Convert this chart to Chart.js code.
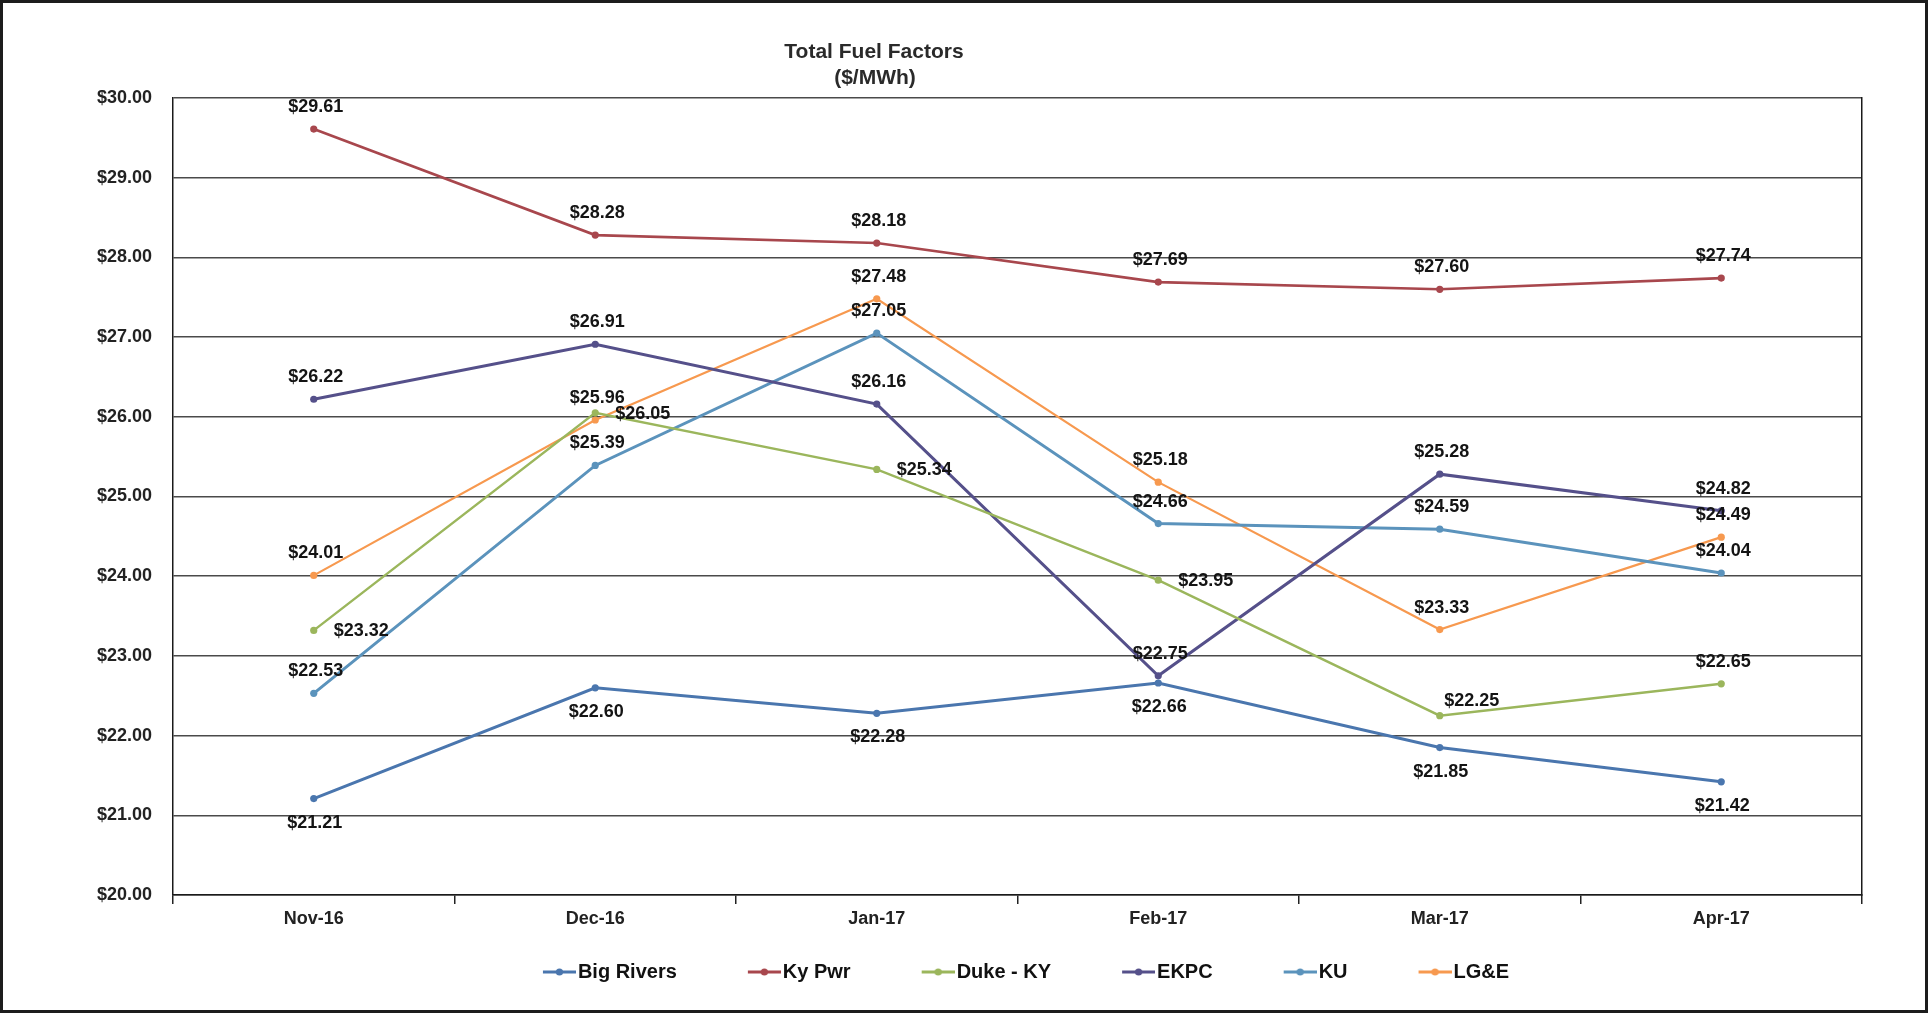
<!DOCTYPE html>
<html>
<head>
<meta charset="utf-8">
<script src="https://cdn.jsdelivr.net/npm/chart.js@4"></script>
<style>
  html, body { margin: 0; padding: 0; background: #ffffff; }
  #wrap { position: relative; width: 1932px; height: 1013px; background: #fff; }
  #frame { position: absolute; left: 0; top: 0; width: 1928px; height: 1013px; box-sizing: border-box; border: 3px solid #1c1c1c; pointer-events: none; }
  canvas { display: block; }
</style>
</head>
<body>
<div id="wrap">
  <canvas id="c" width="1932" height="1013"></canvas>
  <div id="frame"></div>
</div>
<script>
// ---- Data ----
const categories = ['Nov-16', 'Dec-16', 'Jan-17', 'Feb-17', 'Mar-17', 'Apr-17'];
const bigRivers = [21.21, 22.60, 22.28, 22.66, 21.85, 21.42];
const kyPwr     = [29.61, 28.28, 28.18, 27.69, 27.60, 27.74];
const dukeKY    = [23.32, 26.05, 25.34, 23.95, 22.25, 22.65];
const ekpc      = [26.22, 26.91, 26.16, 22.75, 25.28, 24.82];
const ku        = [22.53, 25.39, 27.05, 24.66, 24.59, 24.04];
const lge       = [24.01, 25.96, 27.48, 25.18, 23.33, 24.49];
const seriesNames = ['Big Rivers', 'Ky Pwr', 'Duke - KY', 'EKPC', 'KU', 'LG&E'];
const yMin = 20, yMax = 30, yStep = 1;
const titleLines = ['Total Fuel Factors', '($/MWh)'];

// ---- Styles ----
const colors = ['#4A76AE', '#A8474D', '#9BB65C', '#55508A', '#5B93BC', '#F7994F'];
const widths = [3, 2.6, 2.4, 3, 3, 2.2];
// label placement per series (style only)
const placements = [
  ['below','below','below','below','below','below'],
  ['above','above','above','above','above','above'],
  ['right','right','right','right','aboveRight','above'],
  ['above','above','above','above','above','above'],
  ['above','above','above','above','above','above'],
  ['above','above','above','above','above','above']
];
const FONT = '"Liberation Sans", Arial, sans-serif';

// legend line+dot images
function legendImage(color) {
  const B = 42, e = 8, Wi = B + 2 * e, H = 14;
  const cv = document.createElement('canvas');
  cv.width = Wi; cv.height = H;
  const g = cv.getContext('2d');
  g.strokeStyle = color; g.lineWidth = 3;
  g.beginPath(); g.moveTo(Wi - 33, H / 2); g.lineTo(Wi, H / 2); g.stroke();
  g.fillStyle = color;
  g.beginPath(); g.arc(Wi - 16.5, H / 2, 3.6, 0, Math.PI * 2); g.fill();
  return cv;
}
const legendImgs = colors.map((c) => legendImage(c));

const seriesValues = [bigRivers, kyPwr, dukeKY, ekpc, ku, lge];
const datasets = seriesNames.map((name, i) => ({
  label: name,
  data: seriesValues[i],
  borderColor: colors[i],
  backgroundColor: colors[i],
  borderWidth: widths[i],
  pointRadius: 3.6,
  pointHoverRadius: 3.6,
  pointBorderWidth: 0,
  pointBackgroundColor: colors[i],
  tension: 0,
  fill: false
}));

const dataLabelPlugin = {
  id: 'dataLabels',
  afterDatasetsDraw(chart) {
    const ctx = chart.ctx;
    ctx.save();
    ctx.font = 'bold 18px ' + FONT;
    ctx.fillStyle = '#141414';
    chart.data.datasets.forEach((ds, di) => {
      const meta = chart.getDatasetMeta(di);
      meta.data.forEach((pt, j) => {
        const v = ds.data[j];
        const txt = '$' + v.toFixed(2);
        const p = placements[di][j];
        let x = pt.x, y = pt.y;
        if (p === 'above') { ctx.textAlign = 'center'; ctx.textBaseline = 'middle'; x += 2; y -= 22; }
        else if (p === 'below') { ctx.textAlign = 'center'; ctx.textBaseline = 'middle'; x += 1; y += 24; }
        else if (p === 'right') { ctx.textAlign = 'left'; ctx.textBaseline = 'middle'; x += 20; y += 1; }
        else if (p === 'aboveRight') { ctx.textAlign = 'center'; ctx.textBaseline = 'middle'; x += 32; y -= 15; }
        ctx.fillText(txt, x, y);
      });
    });
    ctx.restore();
  }
};

const titlePlugin = {
  id: 'offsetTitle',
  afterDraw(chart) {
    const ctx = chart.ctx;
    ctx.save();
    ctx.font = 'bold 21px ' + FONT;
    ctx.fillStyle = '#2a2a2a';
    ctx.textAlign = 'center';
    ctx.textBaseline = 'middle';
    ctx.fillText(titleLines[0], 874, 52);
    ctx.fillText(titleLines[1], 875, 78);
    ctx.restore();
  }
};

new Chart(document.getElementById('c'), {
  type: 'line',
  data: { labels: categories, datasets },
  plugins: [dataLabelPlugin, titlePlugin],
  options: {
    responsive: false,
    devicePixelRatio: 1,
    animation: false,
    layout: { padding: { left: 83, right: 70, top: 98, bottom: 21 } },
    plugins: {
      title: { display: false },
      tooltip: { enabled: false },
      legend: {
        display: true,
        position: 'bottom',
        fullSize: false,
        align: 'center',
        labels: {
          usePointStyle: true,
          pointStyleWidth: 42,
          padding: 54,
          color: '#111',
          font: { family: FONT, size: 20, weight: 'bold' },
          generateLabels(chart) {
            const items = Chart.defaults.plugins.legend.labels.generateLabels(chart);
            items.forEach((it, i) => { it.pointStyle = legendImgs[i]; it.fontColor = '#111'; });
            return items;
          }
        }
      }
    },
    scales: {
      x: {
        type: 'category',
        offset: true,
        grid: { display: true, offset: true, drawOnChartArea: false, drawTicks: true, tickLength: 9, color: '#222', lineWidth: 1.5 },
        border: { display: true, color: '#1a1a1a', width: 1.5 },
        ticks: { color: '#222', padding: 4, font: { family: FONT, size: 18, weight: 'bold' }, maxRotation: 0, autoSkip: false },
        afterFit(scale) {
          scale.height = 13;
          // let the tick labels extend below this short axis box
          scale._computeLabelArea = () => undefined;
        }
      },
      y: {
        type: 'linear',
        position: 'left',
        min: yMin, max: yMax,
        ticks: {
          stepSize: yStep,
          color: '#222',
          padding: 21,
          font: { family: FONT, size: 18, weight: 'bold' },
          callback: (v) => '$' + Number(v).toFixed(2)
        },
        grid: { color: '#4a4a4a', lineWidth: 1.5, drawTicks: false },
        border: { display: true, color: '#1a1a1a', width: 1.5 },
        afterFit(scale) { scale.width = 90; }
      },
      y2: {
        type: 'linear',
        position: 'right',
        min: yMin, max: yMax,
        ticks: { display: false },
        grid: { drawOnChartArea: false, drawTicks: false },
        border: { display: true, color: '#1a1a1a', width: 1.5 },
        afterFit(scale) { scale.width = 0; }
      }
    }
  }
});
</script>
</body>
</html>
